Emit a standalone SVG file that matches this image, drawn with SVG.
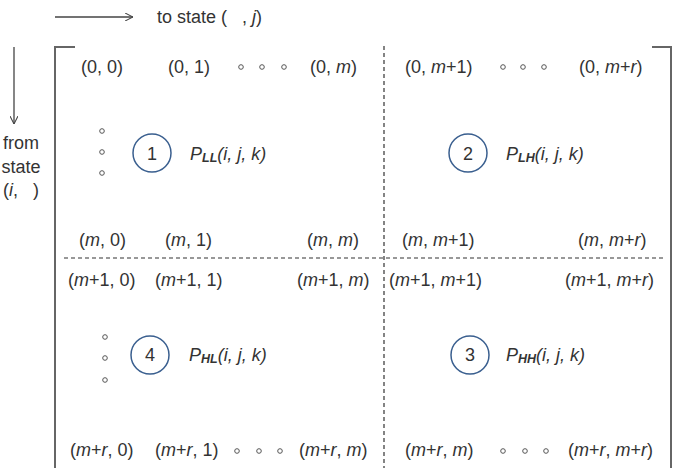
<svg xmlns="http://www.w3.org/2000/svg" width="674" height="468" viewBox="0 0 674 468">
<defs>
<marker id="ah" viewBox="0 0 10 10" refX="10" refY="5" markerWidth="8" markerHeight="8" orient="auto" markerUnits="userSpaceOnUse"><path d="M0,0 L10,5 L0,10" fill="none" stroke="#444" stroke-width="1.3"/></marker>
<style>
text{font-family:"Liberation Sans",Arial,sans-serif;font-size:18px;fill:#333;white-space:pre}
.i{font-style:italic}
.s{font-size:12.5px;font-weight:bold;font-style:italic}
.c{fill:none;stroke:#3a5f8f;stroke-width:1.5}
.d{fill:none;stroke:#555;stroke-width:1}
.br{fill:none;stroke:#666;stroke-width:2}
.dash{stroke:#333;stroke-width:1.2;stroke-dasharray:4,3}
</style>
</defs>
<rect width="674" height="468" fill="#fff"/>
<g id="axes">
<line x1="55" y1="17" x2="133" y2="17" stroke="#444" stroke-width="1.3" marker-end="url(#ah)"/>
<text x="157" y="23" xml:space="preserve">to state (   , <tspan class="i">j</tspan>)</text>
<line x1="14" y1="47" x2="14" y2="124" stroke="#444" stroke-width="1.3" marker-end="url(#ah)"/>
<text x="21" y="149" text-anchor="middle">from</text>
<text x="21" y="173" text-anchor="middle">state</text>
<text x="21" y="196" text-anchor="middle" xml:space="preserve">(<tspan class="i">i</tspan>,   )</text>
</g>
<g id="frame">
<path class="br" d="M75,47 H55 V468"/>
<path class="br" d="M652,47 H671 V468"/>
<line class="dash" x1="64" y1="258" x2="664" y2="258"/>
<line class="dash" x1="384" y1="46" x2="384" y2="468"/>
</g>
<g id="labels">
<text x="81" y="73">(0, 0)</text>
<text x="168" y="73">(0, 1)</text>
<text x="310" y="73">(0, <tspan class="i">m</tspan>)</text>
<text x="405" y="73">(0, <tspan class="i">m</tspan>+1)</text>
<text x="579" y="73">(0, <tspan class="i">m</tspan>+<tspan class="i">r</tspan>)</text>
<text x="79" y="246">(<tspan class="i">m</tspan>, 0)</text>
<text x="165" y="246">(<tspan class="i">m</tspan>, 1)</text>
<text x="307" y="246">(<tspan class="i">m</tspan>, <tspan class="i">m</tspan>)</text>
<text x="402" y="246">(<tspan class="i">m</tspan>, <tspan class="i">m</tspan>+1)</text>
<text x="578" y="246">(<tspan class="i">m</tspan>, <tspan class="i">m</tspan>+<tspan class="i">r</tspan>)</text>
<text x="68" y="286">(<tspan class="i">m</tspan>+1, 0)</text>
<text x="155" y="286">(<tspan class="i">m</tspan>+1, 1)</text>
<text x="297" y="286">(<tspan class="i">m</tspan>+1, <tspan class="i">m</tspan>)</text>
<text x="389" y="286">(<tspan class="i">m</tspan>+1, <tspan class="i">m</tspan>+1)</text>
<text x="565" y="286">(<tspan class="i">m</tspan>+1, <tspan class="i">m</tspan>+<tspan class="i">r</tspan>)</text>
<text x="70" y="456">(<tspan class="i">m</tspan>+<tspan class="i">r</tspan>, 0)</text>
<text x="155" y="456">(<tspan class="i">m</tspan>+<tspan class="i">r</tspan>, 1)</text>
<text x="299" y="456">(<tspan class="i">m</tspan>+<tspan class="i">r</tspan>, <tspan class="i">m</tspan>)</text>
<text x="405" y="456">(<tspan class="i">m</tspan>+<tspan class="i">r</tspan>, <tspan class="i">m</tspan>)</text>
<text x="568" y="456">(<tspan class="i">m</tspan>+<tspan class="i">r</tspan>, <tspan class="i">m</tspan>+<tspan class="i">r</tspan>)</text>
</g>
<g id="dots">
<circle class="d" cx="241" cy="67" r="2.3"/><circle class="d" cx="262" cy="67" r="2.3"/><circle class="d" cx="284" cy="67" r="2.3"/>
<circle class="d" cx="503" cy="67" r="2.3"/><circle class="d" cx="523" cy="67" r="2.3"/><circle class="d" cx="544" cy="67" r="2.3"/>
<circle class="d" cx="102" cy="131" r="2.3"/><circle class="d" cx="102" cy="152" r="2.3"/><circle class="d" cx="102" cy="173" r="2.3"/>
<circle class="d" cx="105" cy="337" r="2.3"/><circle class="d" cx="105" cy="358" r="2.3"/><circle class="d" cx="105" cy="380" r="2.3"/>
<circle class="d" cx="237" cy="451" r="2.3"/><circle class="d" cx="259" cy="451" r="2.3"/><circle class="d" cx="280" cy="451" r="2.3"/>
<circle class="d" cx="503" cy="451" r="2.3"/><circle class="d" cx="525" cy="451" r="2.3"/><circle class="d" cx="546" cy="451" r="2.3"/>
</g>
<g id="block1">
<circle class="c" cx="152" cy="153" r="19"/>
<text x="152" y="160" text-anchor="middle">1</text>
<text x="190" y="160" class="i">P<tspan class="s" dy="2">LL</tspan><tspan dy="-2">(i, j, k)</tspan></text>
</g>
<g id="block2">
<circle class="c" cx="468" cy="153" r="19"/>
<text x="468" y="160" text-anchor="middle">2</text>
<text x="506" y="160" class="i">P<tspan class="s" dy="2">LH</tspan><tspan dy="-2">(i, j, k)</tspan></text>
</g>
<g id="block4">
<circle class="c" cx="150" cy="355" r="19"/>
<text x="150" y="361" text-anchor="middle">4</text>
<text x="189" y="361" class="i">P<tspan class="s" dy="2">HL</tspan><tspan dy="-2">(i, j, k)</tspan></text>
</g>
<g id="block3">
<circle class="c" cx="470" cy="355" r="19"/>
<text x="470" y="361" text-anchor="middle">3</text>
<text x="506" y="361" class="i">P<tspan class="s" dy="2">HH</tspan><tspan dy="-2">(i, j, k)</tspan></text>
</g>
</svg>
